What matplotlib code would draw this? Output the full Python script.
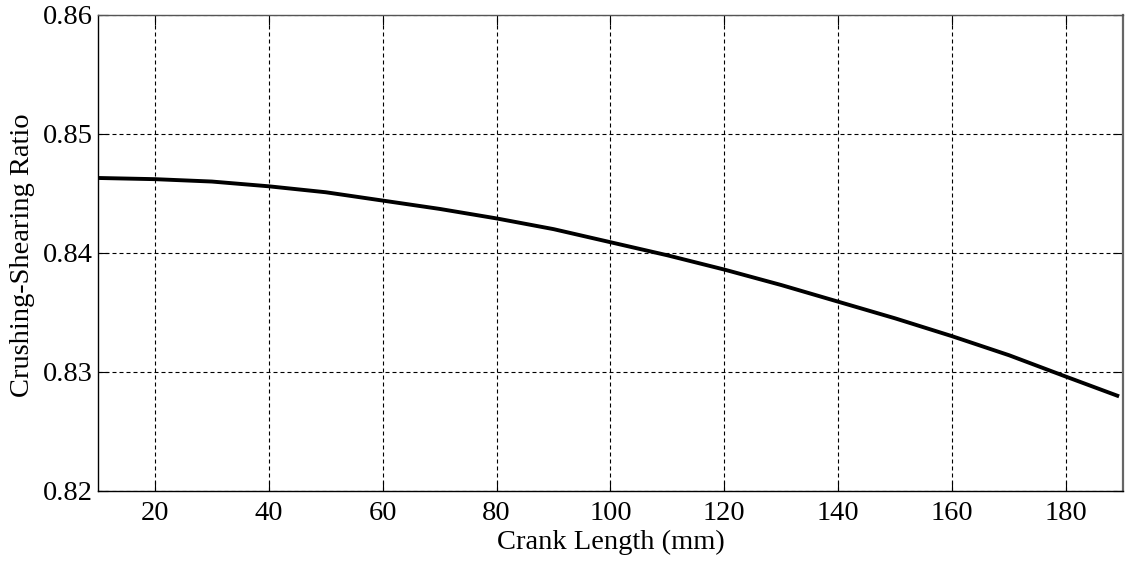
import numpy as np
import matplotlib
matplotlib.use('Agg')
import matplotlib.pyplot as plt
from matplotlib.ticker import FormatStrFormatter

# Crank length (mm) vs crushing-shearing ratio
crank_length = [10, 20, 30, 40, 50, 60, 70, 80, 90, 100,
                110, 120, 130, 140, 150, 160, 170, 180, 189]
ratio = [0.8463, 0.8462, 0.8460, 0.8456, 0.8451, 0.8444, 0.8437, 0.8429, 0.8420, 0.8409,
         0.8398, 0.8386, 0.8373, 0.8359, 0.8345, 0.8330, 0.8314, 0.8296, 0.8280]

x_ticks = [20, 40, 60, 80, 100, 120, 140, 160, 180]
y_ticks = [0.82, 0.83, 0.84, 0.85, 0.86]

plt.rcParams['font.family'] = ['Liberation Serif', 'DejaVu Serif']

fig = plt.figure(figsize=(11.26, 5.61), dpi=100)
ax = fig.add_axes([0.087, 0.125, 0.9103, 0.8483])

ax.plot(crank_length, ratio, color='black', linewidth=2.8)

ax.set_xlim(10, 190)
ax.set_ylim(0.82, 0.86)
ax.set_xticks(x_ticks)
ax.set_yticks(y_ticks)
ax.yaxis.set_major_formatter(FormatStrFormatter('%.2f'))
ax.tick_params(direction='in', length=7, width=0.8, labelsize=20.5,
               top=True, right=True, pad=4)
ax.tick_params(axis='x', pad=7)
ax.grid(True, color='black', linestyle=(0, (3.6, 2.7)), linewidth=0.8)

for s in ax.spines.values():
    s.set_linewidth(1.0)
ax.spines['top'].set_color('#555555')
ax.spines['right'].set_color('#666666')
ax.spines['right'].set_linewidth(1.6)

ax.set_xlabel('Crank Length (mm)', fontsize=20.5)
ax.set_ylabel('Crushing-Shearing Ratio', fontsize=20.5)
ax.xaxis.set_label_coords(0.5, -0.081)
ax.yaxis.set_label_coords(-0.061, 0.496)

fig.savefig('out.png', dpi=100)
